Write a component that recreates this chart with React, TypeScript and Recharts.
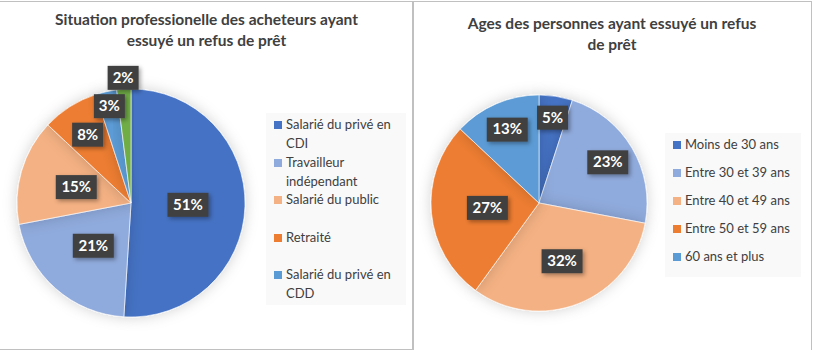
import { PieChart, Pie, Cell, Legend } from "recharts";

const jobCategories = [
  "Salarié du privé en CDI",
  "Travailleur indépendant",
  "Salarié du public",
  "Retraité",
  "Salarié du privé en CDD",
  "Autre",
];
const jobValues = [51, 21, 15, 8, 3, 2];
const jobColors = ["#4472c4", "#8faadc", "#f4b183", "#ed7d31", "#5b9bd5", "#70ad47"];
// where Excel's "best fit" put each label, as a fraction of the radius
const jobLabelRadius = [0.5, 0.5, 0.5, 0.71, 0.87, 1.1];

const ageCategories = [
  "Moins de 30 ans",
  "Entre 30 et 39 ans",
  "Entre 40 et 49 ans",
  "Entre 50 et 59 ans",
  "60 ans et plus",
];
const ageValues = [5, 23, 32, 27, 13];
const ageColors = ["#4472c4", "#8faadc", "#f4b183", "#ed7d31", "#5b9bd5"];
const ageLabelRadius = [0.8, 0.74, 0.58, 0.48, 0.74];

const FONT = "Lato, 'Open Sans', sans-serif";
const RAD = Math.PI / 180;
const MARGIN = { top: 0, right: 0, bottom: 0, left: 0 };

function makeLabel(radii: number[]) {
  return (props: any) => {
    const { cx, cy, midAngle, outerRadius, value, index } = props;
    const r = outerRadius * radii[index];
    const x = cx + r * Math.cos(-midAngle * RAD);
    const y = cy + r * Math.sin(-midAngle * RAD);
    const text = `${value}%`;
    const w = 11 + text.length * 10;
    const h = 24;
    return (
      <g>
        <rect
          x={x - w / 2}
          y={y - h / 2}
          width={w}
          height={h}
          fill="#404040"
          filter="url(#boxShadow)"
        />
        <text
          x={x}
          y={y + 1}
          fill="#fff"
          fontFamily={FONT}
          fontWeight={700}
          fontSize={15}
          textAnchor="middle"
          dominantBaseline="middle"
        >
          {text}
        </text>
      </g>
    );
  };
}

// Excel ran out of room for the last entry on the left, so only `count` are shown
function makeLegend(order: string[], count: number, itemHeight: number, width: number) {
  return (props: any) => {
    const payload: any[] = props.payload || [];
    const items = order
      .slice(0, count)
      .map((name) => payload.find((p) => p.value === name))
      .filter(Boolean);
    return (
      <div
        style={{
          background: "#f9f9f9",
          width,
          padding: "2px 4px 2px 8px",
          boxSizing: "border-box",
          fontFamily: FONT,
          fontSize: 13,
          color: "#404040",
        }}
      >
        {items.map((it: any, i: number) => (
          <div key={i} style={{ display: "flex", height: itemHeight, alignItems: "flex-start" }}>
            <span
              style={{
                display: "inline-block",
                width: 8,
                height: 8,
                background: it.color,
                marginTop: 6,
                marginRight: 4,
                flexShrink: 0,
              }}
            />
            <span style={{ lineHeight: "19px" }}>{it.value}</span>
          </div>
        ))}
      </div>
    );
  };
}

const titleStyle: React.CSSProperties = {
  position: "absolute",
  left: 0,
  width: "100%",
  textAlign: "center",
  fontFamily: FONT,
  fontWeight: 700,
  fontSize: 15.5,
  lineHeight: "21px",
  color: "#404040",
};

export default function App() {
  const jobData = jobCategories.map((name, i) => ({ name, value: jobValues[i] }));
  const ageData = ageCategories.map((name, i) => ({ name, value: ageValues[i] }));

  return (
    <div style={{ position: "fixed", left: 0, top: 0, width: 813, height: 350, background: "#fff", overflow: "hidden" }}>
      <svg width={0} height={0} style={{ position: "absolute" }}>
        <defs>
          <filter id="pieShadow" x="-20%" y="-20%" width="140%" height="140%">
            <feDropShadow dx={0} dy={0} stdDeviation={7} floodColor="#000" floodOpacity={0.18} />
          </filter>
          <filter id="boxShadow" x="-30%" y="-30%" width="170%" height="170%">
            <feDropShadow dx={2} dy={2} stdDeviation={2} floodColor="#000" floodOpacity={0.35} />
          </filter>
        </defs>
      </svg>

      <div
        style={{
          position: "absolute",
          left: -1,
          top: 1,
          width: 413,
          height: 347,
          border: "1px solid #c0c0c0",
        }}
      >
        <div style={{ ...titleStyle, top: 7 }}>
          Situation professionelle des acheteurs ayant
          <br />
          essuyé un refus de prêt
        </div>
        <div style={{ position: "absolute", left: 1, top: 0 }}>
          <PieChart width={412} height={347} margin={MARGIN}>
            <Pie
              data={jobData}
              dataKey="value"
              nameKey="name"
              cx={130}
              cy={201}
              outerRadius={114}
              startAngle={90}
              endAngle={-270}
              stroke="#ffffff"
              strokeWidth={0.6}
              label={makeLabel(jobLabelRadius)}
              labelLine={false}
              isAnimationActive={false}
              style={{ filter: "url(#pieShadow)" }}
            >
              {jobData.map((d, i) => (
                <Cell key={d.name} fill={jobColors[i]} />
              ))}
            </Pie>
            <Legend
              layout="vertical"
              align="right"
              verticalAlign="top"
              wrapperStyle={{ left: 265, top: 111, width: 140 }}
              content={makeLegend(jobCategories, 5, 37.5, 140)}
            />
          </PieChart>
        </div>
      </div>

      <div
        style={{
          position: "absolute",
          left: 412,
          top: 1,
          width: 398,
          height: 380,
          border: "1px solid #c0c0c0",
        }}
      >
        <div style={{ ...titleStyle, top: 11 }}>
          Ages des personnes ayant essuyé un refus
          <br />
          de prêt
        </div>
        <div style={{ position: "absolute", left: 0, top: 0 }}>
          <PieChart width={398} height={347} margin={MARGIN}>
            <Pie
              data={ageData}
              dataKey="value"
              nameKey="name"
              cx={126}
              cy={201}
              outerRadius={108}
              startAngle={90}
              endAngle={-270}
              stroke="#ffffff"
              strokeWidth={0.6}
              label={makeLabel(ageLabelRadius)}
              labelLine={false}
              isAnimationActive={false}
              style={{ filter: "url(#pieShadow)" }}
            >
              {ageData.map((d, i) => (
                <Cell key={d.name} fill={ageColors[i]} />
              ))}
            </Pie>
            <Legend
              layout="vertical"
              align="right"
              verticalAlign="top"
              wrapperStyle={{ left: 252, top: 131, width: 136 }}
              content={makeLegend(ageCategories, 5, 28, 136)}
            />
          </PieChart>
        </div>
      </div>
    </div>
  );
}
